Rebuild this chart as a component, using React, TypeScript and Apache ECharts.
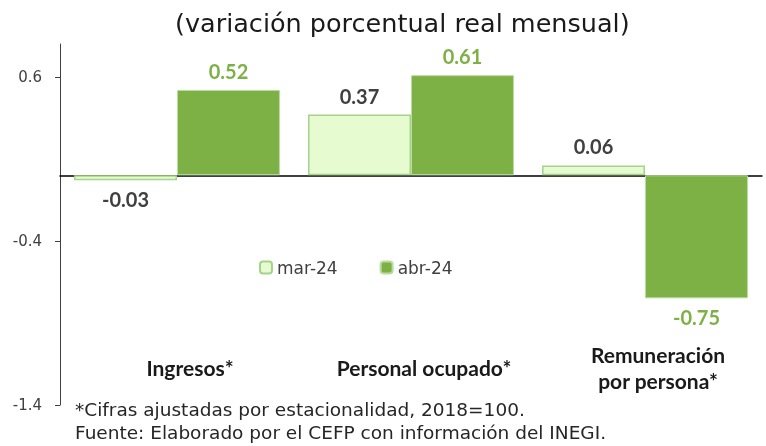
import React, { useEffect, useRef } from "react";
import * as echarts from "echarts";

const categories = ["Ingresos*", "Personal ocupado*", "Remuneración\npor persona*"];
const seriesNames = ["mar-24", "abr-24"];
const marValues = [-0.03, 0.37, 0.06];
const abrValues = [0.52, 0.61, -0.75];
const yTicks = [-1.4, -0.4, 0.6];
const titleText = "(variación porcentual real mensual)";
const noteLines = [
  "*Cifras ajustadas por estacionalidad, 2018=100.",
  "Fuente: Elaborado por el CEFP con información del INEGI.",
];

const FONT = "Lato, 'Open Sans', sans-serif";
const WIDE = "'DejaVu Sans', sans-serif";

export default function App() {
  const ref = useRef<HTMLDivElement>(null);
  useEffect(() => {
    if (!ref.current) return;
    const chart = echarts.init(ref.current, null, { renderer: "svg" });
    const labelFor = (color: string) => ({
      show: true,
      fontFamily: FONT,
      fontWeight: "bold",
      fontSize: 20,
      color,
      distance: 9,
      formatter: (p: any) => p.value.toFixed(2),
      position: "top",
    });
    const mkData = (vals: number[], color: string) =>
      vals.map((v) => ({
        value: v,
        label: { ...labelFor(color), position: v < 0 ? "bottom" : "top" },
      }));
    chart.setOption({
      animation: false,
      textStyle: { fontFamily: FONT },
      title: {
        text: titleText,
        left: 170,
        top: 5,
        textStyle: { fontFamily: WIDE, fontSize: 25.5, fontWeight: "normal", color: "#1a1a1a" },
      },
      legend: {
        data: seriesNames,
        left: 254,
        top: 254,
        itemWidth: 12,
        itemHeight: 12,
        itemGap: 42,
        textStyle: { fontFamily: WIDE, fontSize: 17, color: "#404040" },
      },
      grid: { left: 60, right: 4, top: 44, bottom: 41 },
      xAxis: [
        {
          type: "category",
          data: categories,
          axisLine: { onZero: true, lineStyle: { color: "#000", width: 1.5 } },
          axisTick: { show: false },
          axisLabel: { show: false },
        },
        {
          type: "category",
          data: categories,
          position: "bottom",
          axisLine: { show: false },
          axisTick: { show: false },
          axisLabel: {
            show: true,
            margin: -38,
            verticalAlign: "middle",
            padding: [0, 0, 0, 26],
            fontFamily: FONT,
            fontWeight: "bold",
            fontSize: 21,
            lineHeight: 26,
            color: "#1a1a1a",
          },
        },
      ],
      yAxis: {
        type: "value",
        min: -1.4,
        max: 0.8,
        interval: 1,
        splitLine: { show: false },
        axisLine: { show: true, lineStyle: { color: "#404040" } },
        axisTick: { show: true, length: 5, customValues: yTicks, lineStyle: { color: "#404040" } },
        axisLabel: {
          customValues: yTicks,
          fontFamily: WIDE,
          fontSize: 15,
          color: "#404040",
          margin: 18,
          formatter: (v: number) => v.toFixed(1),
        },
      },
      series: [
        {
          name: seriesNames[0],
          type: "bar",
          xAxisIndex: 0,
          barGap: "0%",
          barCategoryGap: "12%",
          itemStyle: { color: "#e7fbd0", borderColor: "#a6d38a", borderWidth: 1.5 },
          data: mkData(marValues, "#404040"),
        },
        {
          name: seriesNames[1],
          type: "bar",
          xAxisIndex: 0,
          barGap: "0%",
          barCategoryGap: "12%",
          itemStyle: { color: "#7db146", borderColor: "#b9dca0", borderWidth: 1 },
          data: mkData(abrValues, "#7db146"),
        },
      ],
      graphic: noteLines.map((t, i) => ({
        type: "text",
        left: 75,
        top: 400 + i * 23,
        style: { text: t, fontFamily: WIDE, fontSize: 18.5, fill: "#262626" },
      })),
    });
    return () => chart.dispose();
  }, []);
  return <div ref={ref} style={{ width: 766, height: 446, position: "fixed", left: 0, top: 0 }} />;
}
